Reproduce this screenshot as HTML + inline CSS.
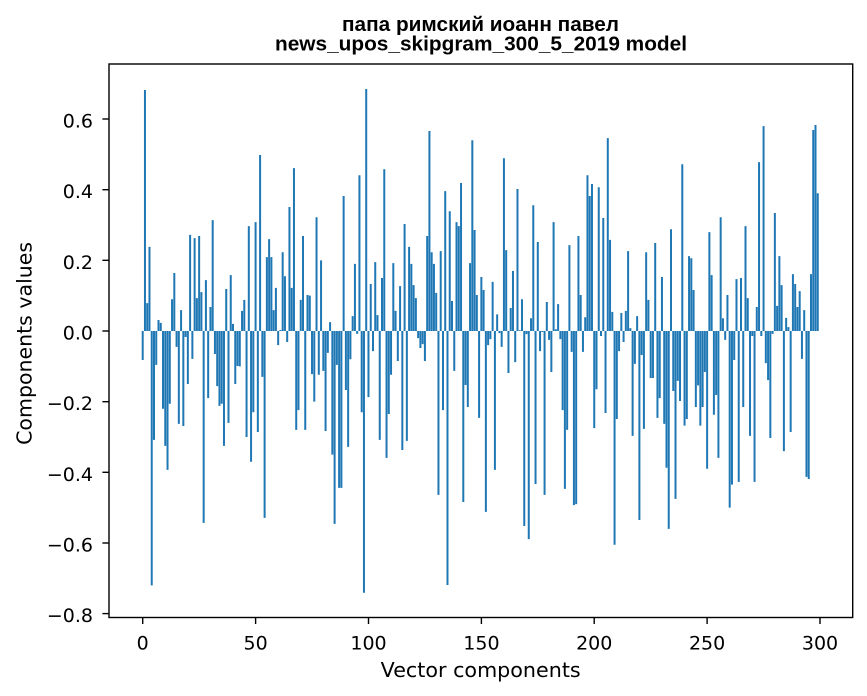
<!DOCTYPE html>
<html>
<head>
<meta charset="utf-8">
<style>
html,body{margin:0;padding:0;background:#ffffff;}
svg{display:block;}
text{font-family:"DejaVu Sans","Liberation Sans",sans-serif;fill:#000;}
.t{font-family:"Liberation Sans","DejaVu Sans",sans-serif;font-weight:bold;}
</style>
</head>
<body>
<svg width="867" height="696" viewBox="0 0 867 696" xmlns="http://www.w3.org/2000/svg">
<rect x="0" y="0" width="867" height="696" fill="#ffffff"/>
<g transform="translate(142.7,331) scale(2.2577,-353.3)">
<path fill="#1f77b4" d="M-0.4425 0v-.082h.885V0z
m1 0v.682h.885V0zm1 0v.079h.885V0zm1 0v.238h.885V0zm1 0v-.72h.885V0zm1 0v-.308h.885V0zm1 0v-.096h.885V0zm1 0v.031h.885V0zm1 0v.023h.885V0zm1 0v-.22h.885V0z
m1 0v-.325h.885V0zm1 0v-.393h.885V0zm1 0v-.206h.885V0zm1 0v.09h.885V0zm1 0v.164h.885V0zm1 0v-.045h.885V0zm1 0v-.263h.885V0zm1 0v.059h.885V0zm1 0v-.269h.885V0zm1 0v-.017h.885V0z
m1 0v-.15h.885V0zm1 0v.272h.885V0zm1 0v-.079h.885V0zm1 0v.263h.885V0zm1 0v.093h.885V0zm1 0v.269h.885V0zm1 0v.11h.885V0zm1 0v-.543h.885V0zm1 0v.144h.885V0zm1 0v-.19h.885V0z
m1 0v.068h.885V0zm1 0v.314h.885V0zm1 0v-.065h.885V0zm1 0v-.156h.885V0zm1 0v-.212h.885V0zm1 0v-.206h.885V0zm1 0v-.325h.885V0zm1 0v.119h.885V0zm1 0v-.26h.885V0zm1 0v.158h.885V0z
m1 0v.02h.885V0zm1 0v-.15h.885V0zm1 0v-.099h.885V0zm1 0v-.1h.885V0zm1 0v.057h.885V0zm1 0v.088h.885V0zm1 0v-.3h.885V0zm1 0v.297h.885V0zm1 0v-.37h.885V0zm1 0v-.23h.885V0z
m1 0v.308h.885V0zm1 0v-.286h.885V0zm1 0v.498h.885V0zm1 0v-.13h.885V0zm1 0v-.529h.885V0zm1 0v.209h.885V0zm1 0v.26h.885V0zm1 0v.209h.885V0zm1 0v.059h.885V0zm1 0v.122h.885V0z
m1 0v-.04h.885V0zm1 0v.003h.885V0zm1 0v.223h.885V0zm1 0v.155h.885V0zm1 0v-.031h.885V0zm1 0v.351h.885V0zm1 0v.122h.885V0zm1 0v.461h.885V0zm1 0v-.28h.885V0zm1 0v-.224h.885V0z
m1 0v.088h.885V0zm1 0v.269h.885V0zm1 0v-.28h.885V0zm1 0v.102h.885V0zm1 0v.1h.885V0zm1 0v-.122h.885V0zm1 0v-.2h.885V0zm1 0v.322h.885V0zm1 0v-.124h.885V0zm1 0v.2h.885V0z
m1 0v-.113h.885V0zm1 0v-.283h.885V0zm1 0v-.062h.885V0zm1 0v.025h.885V0zm1 0v-.35h.885V0zm1 0v-.546h.885V0zm1 0v-.096h.885V0zm1 0v-.444h.885V0zm1 0v-.444h.885V0zm1 0v.382h.885V0z
m1 0v-.167h.885V0zm1 0v-.328h.885V0zm1 0v-.08h.885V0zm1 0v.042h.885V0zm1 0v.19h.885V0zm1 0v-.008h.885V0zm1 0v.441h.885V0zm1 0v-.23h.885V0zm1 0v-.741h.885V0zm1 0v.685h.885V0z
m1 0v-.187h.885V0zm1 0v.133h.885V0zm1 0v-.057h.885V0zm1 0v.195h.885V0zm1 0v.045h.885V0zm1 0v-.308h.885V0zm1 0v.15h.885V0zm1 0v.458h.885V0zm1 0v-.359h.885V0zm1 0v-.235h.885V0z
m1 0v-.124h.885V0zm1 0v.192h.885V0zm1 0v.057h.885V0zm1 0v-.085h.885V0zm1 0v.127h.885V0zm1 0v-.337h.885V0zm1 0v.303h.885V0zm1 0v-.311h.885V0zm1 0v.238h.885V0zm1 0v.19h.885V0z
m1 0v.13h.885V0zm1 0v.093h.885V0zm1 0v-.02h.885V0zm1 0v-.048h.885V0zm1 0v-.037h.885V0zm1 0v-.085h.885V0zm1 0v.269h.885V0zm1 0v.566h.885V0zm1 0v.223h.885V0zm1 0v.19h.885V0z
m1 0v.108h.885V0zm1 0v-.464h.885V0zm1 0v.226h.885V0zm1 0v-.224h.885V0zm1 0v.396h.885V0zm1 0v-.719h.885V0zm1 0v.339h.885V0zm1 0v.085h.885V0zm1 0v-.113h.885V0zm1 0v.308h.885V0z
m1 0v.297h.885V0zm1 0v.419h.885V0zm1 0v-.484h.885V0zm1 0v-.153h.885V0zm1 0v-.215h.885V0zm1 0v.192h.885V0zm1 0v.54h.885V0zm1 0v.286h.885V0zm1 0v.102h.885V0zm1 0v-.246h.885V0z
m1 0v.153h.885V0zm1 0v.116h.885V0zm1 0v-.512h.885V0zm1 0v-.04h.885V0zm1 0v-.023h.885V0zm1 0v.139h.885V0zm1 0v-.393h.885V0zm1 0v.047h.885V0zm1 0v-.006h.885V0zm1 0v-.045h.885V0z
m1 0v.489h.885V0zm1 0v.229h.885V0zm1 0v-.119h.885V0zm1 0v.065h.885V0zm1 0v.17h.885V0zm1 0v-.088h.885V0zm1 0v.402h.885V0zm1 0v.002h.885V0zm1 0v.09h.885V0zm1 0v-.552h.885V0z
m1 0v-.009h.885V0zm1 0v-.589h.885V0zm1 0v.036h.885V0zm1 0v.356h.885V0zm1 0v-.433h.885V0zm1 0v.252h.885V0zm1 0v-.057h.885V0zm1 0v-.003h.885V0zm1 0v-.464h.885V0zm1 0v.082h.885V0z
m1 0v-.025h.885V0zm1 0v-.116h.885V0zm1 0v.308h.885V0zm1 0v.005h.885V0zm1 0v.076h.885V0zm1 0v-.023h.885V0zm1 0v-.224h.885V0zm1 0v-.447h.885V0zm1 0v-.28h.885V0zm1 0v.243h.885V0z
m1 0v-.059h.885V0zm1 0v-.493h.885V0zm1 0v-.49h.885V0zm1 0v.269h.885V0zm1 0v.102h.885V0zm1 0v-.059h.885V0zm1 0v.039h.885V0zm1 0v.441h.885V0zm1 0v.382h.885V0zm1 0v.416h.885V0z
m1 0v-.275h.885V0zm1 0v-.165h.885V0zm1 0v.407h.885V0zm1 0v-.014h.885V0zm1 0v.32h.885V0zm1 0v-.232h.885V0zm1 0v.546h.885V0zm1 0v.258h.885V0zm1 0v.054h.885V0zm1 0v-.605h.885V0z
m1 0v-.249h.885V0zm1 0v-.057h.885V0zm1 0v.051h.885V0zm1 0v-.031h.885V0zm1 0v.057h.885V0zm1 0v.226h.885V0zm1 0v.008h.885V0zm1 0v-.297h.885V0zm1 0v-.093h.885V0zm1 0v.042h.885V0z
m1 0v-.535h.885V0zm1 0v-.068h.885V0zm1 0v-.277h.885V0zm1 0v.223h.885V0zm1 0v.088h.885V0zm1 0v-.133h.885V0zm1 0v-.133h.885V0zm1 0v.249h.885V0zm1 0v-.246h.885V0zm1 0v-.19h.885V0z
m1 0v.153h.885V0zm1 0v-.263h.885V0zm1 0v-.387h.885V0zm1 0v-.56h.885V0zm1 0v.288h.885V0zm1 0v-.17h.885V0zm1 0v-.475h.885V0zm1 0v-.141h.885V0zm1 0v-.198h.885V0zm1 0v.472h.885V0z
m1 0v-.268h.885V0zm1 0v-.249h.885V0zm1 0v.212h.885V0zm1 0v.206h.885V0zm1 0v.116h.885V0zm1 0v-.215h.885V0zm1 0v-.154h.885V0zm1 0v-.268h.885V0zm1 0v-.215h.885V0zm1 0v-.116h.885V0z
m1 0v-.39h.885V0zm1 0v.28h.885V0zm1 0v.158h.885V0zm1 0v-.237h.885V0zm1 0v-.181h.885V0zm1 0v-.359h.885V0zm1 0v.322h.885V0zm1 0v.036h.885V0zm1 0v-.025h.885V0zm1 0v.102h.885V0z
m1 0v-.5h.885V0zm1 0v-.435h.885V0zm1 0v-.082h.885V0zm1 0v.147h.885V0zm1 0v-.427h.885V0zm1 0v.15h.885V0zm1 0v-.215h.885V0zm1 0v.297h.885V0zm1 0v.093h.885V0zm1 0v-.297h.885V0z
m1 0v-.014h.885V0zm1 0v-.427h.885V0zm1 0v.068h.885V0zm1 0v.478h.885V0zm1 0v-.014h.885V0zm1 0v.58h.885V0zm1 0v-.091h.885V0zm1 0v-.139h.885V0zm1 0v-.303h.885V0zm1 0v-.008h.885V0z
m1 0v.334h.885V0zm1 0v.071h.885V0zm1 0v.212h.885V0zm1 0v.13h.885V0zm1 0v-.34h.885V0zm1 0v.037h.885V0zm1 0v.011h.885V0zm1 0v-.286h.885V0zm1 0v.161h.885V0zm1 0v.133h.885V0z
m1 0v.068h.885V0zm1 0v.113h.885V0zm1 0v-.079h.885V0zm1 0v.059h.885V0zm1 0v-.413h.885V0zm1 0v-.419h.885V0zm1 0v.161h.885V0zm1 0v.569h.885V0zm1 0v.583h.885V0zm1 0v.39h.885V0z"/>
</g>

<!-- axes frame -->
<rect x="109" y="64" width="743.7" height="553.5" fill="none" stroke="#000" stroke-width="1.4"/>

<!-- y ticks -->
<g stroke="#000" stroke-width="1.4">
<line x1="102.4" y1="119" x2="109" y2="119"/>
<line x1="102.4" y1="189.7" x2="109" y2="189.7"/>
<line x1="102.4" y1="260.3" x2="109" y2="260.3"/>
<line x1="102.4" y1="331" x2="109" y2="331"/>
<line x1="102.4" y1="401.7" x2="109" y2="401.7"/>
<line x1="102.4" y1="472.3" x2="109" y2="472.3"/>
<line x1="102.4" y1="543" x2="109" y2="543"/>
<line x1="102.4" y1="613.6" x2="109" y2="613.6"/>
</g>
<g font-size="19" text-anchor="end">
<text x="93" y="127.5">0.6</text>
<text x="93" y="198.2">0.4</text>
<text x="93" y="268.8">0.2</text>
<text x="93" y="339.5">0.0</text>
<text x="93" y="410.2">−0.2</text>
<text x="93" y="480.8">−0.4</text>
<text x="93" y="551.5">−0.6</text>
<text x="93" y="622.1">−0.8</text>
</g>

<!-- x ticks -->
<g stroke="#000" stroke-width="1.4">
<line x1="142.7" y1="617.5" x2="142.7" y2="624"/>
<line x1="255.6" y1="617.5" x2="255.6" y2="624"/>
<line x1="368.5" y1="617.5" x2="368.5" y2="624"/>
<line x1="481.4" y1="617.5" x2="481.4" y2="624"/>
<line x1="594.2" y1="617.5" x2="594.2" y2="624"/>
<line x1="707.1" y1="617.5" x2="707.1" y2="624"/>
<line x1="820" y1="617.5" x2="820" y2="624"/>
</g>
<g font-size="19" text-anchor="middle">
<text x="142.7" y="649.5">0</text>
<text x="255.6" y="649.5">50</text>
<text x="368.5" y="649.5">100</text>
<text x="481.4" y="649.5">150</text>
<text x="594.2" y="649.5">200</text>
<text x="707.1" y="649.5">250</text>
<text x="820" y="649.5">300</text>
</g>

<!-- axis labels -->
<text x="480.7" y="677" font-size="20.5" text-anchor="middle" textLength="200" lengthAdjust="spacingAndGlyphs">Vector components</text>
<text transform="translate(31.5,343.4) rotate(-90)" x="0" y="0" font-size="20.5" text-anchor="middle" textLength="203" lengthAdjust="spacingAndGlyphs">Components values</text>

<!-- title -->
<text class="t" x="480.5" y="31" font-size="20" text-anchor="middle" textLength="277" lengthAdjust="spacingAndGlyphs" style="font-family:'Liberation Sans','DejaVu Sans',sans-serif;">папа римский иоанн павел</text>
<text class="t" x="481" y="50.5" font-size="20" text-anchor="middle" textLength="412" lengthAdjust="spacingAndGlyphs" style="font-family:'Liberation Sans','DejaVu Sans',sans-serif;">news_upos_skipgram_300_5_2019 model</text>
</svg>
</body>
</html>
